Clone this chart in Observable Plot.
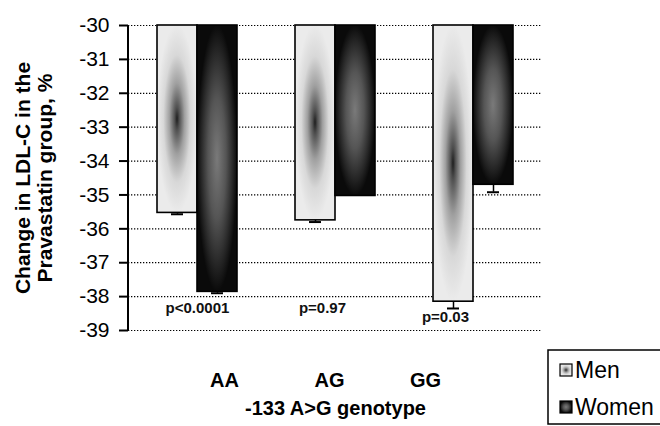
<!DOCTYPE html>
<html><head><meta charset="utf-8">
<script src="https://cdn.jsdelivr.net/npm/d3@7"></script>
<script src="https://cdn.jsdelivr.net/npm/@observablehq/plot@0.6"></script>
<style>body{margin:0;background:#fff} svg{display:block}</style>
</head><body><div id="chart"></div>
<script>
// ---- data ----
const genotypes = ["AA", "AG", "GG"];
const menChange = [-35.53, -35.75, -38.15];
const menErr = [0.04, 0.05, 0.2];
const womenChange = [-37.86, -35.03, -34.7];
const womenErr = [0.04, 0.0, 0.22];
const pLabels = ["p<0.0001", "p=0.97", "p=0.03"];
const pLabelY = [-38.35, -38.33, -38.62];
const series = ["Men", "Women"];
const yTicks = [-30, -31, -32, -33, -34, -35, -36, -37, -38, -39];
const xTitle = "-133 A>G genotype";
const yTitle = ["Change in LDL-C in the", "Pravastatin group, %"];

// ---- styling (not data) ----
const pShift = [0, -13, -28];
const xLabelShift = [27, -6, -48];
const FONT = "'Liberation Sans', Arial, sans-serif";

const rows = genotypes.map((g, i) => ({
  genotype: g, men: menChange[i], menErr: menErr[i],
  women: womenChange[i], womenErr: womenErr[i], p: pLabels[i], pY: pLabelY[i]
}));

const defsMark = () => {
  const g = d3.create("svg:defs");
  const m = g.append("radialGradient").attr("id", "menGrad")
    .attr("cx", 0.5).attr("cy", 0.5).attr("r", 0.5);
  [[0, "#1e1e1e"], [0.12, "#505050"], [0.38, "#a0a0a0"], [0.68, "#d8d8d8"], [1, "#ebebeb"]]
    .forEach(([o, c]) => m.append("stop").attr("offset", o).attr("stop-color", c));
  const w = g.append("radialGradient").attr("id", "womenGrad")
    .attr("cx", 0.5).attr("cy", 0.5).attr("r", 0.5);
  [[0, "#7a7a7a"], [0.45, "#555"], [0.8, "#262626"], [1, "#0a0a0a"]]
    .forEach(([o, c]) => w.append("stop").attr("offset", o).attr("stop-color", c));
  return g.node();
};

const axisLine = (index, scales, values, dims) => {
  const g = d3.create("svg:g");
  g.append("line")
    .attr("x1", dims.marginLeft).attr("x2", dims.marginLeft)
    .attr("y1", scales.y(-30)).attr("y2", scales.y(-39))
    .attr("stroke", "#000").attr("stroke-width", 2);
  return g.node();
};

const legendMark = (index, scales, values, dims) => {
  const g = d3.create("svg:g").attr("font-family", FONT).attr("font-size", 23)
    .attr("text-anchor", "start");
  const x0 = 548, y0 = 350;
  g.append("rect").attr("x", x0).attr("y", y0).attr("width", 130).attr("height", 74)
    .attr("fill", "#fff").attr("stroke", "#000").attr("stroke-width", 1.5);
  const fills = ["url(#menGrad)", "url(#womenGrad)"];
  series.forEach((s, i) => {
    const cy = y0 + 20 + i * 37;
    g.append("rect").attr("x", x0 + 12).attr("y", cy - 6).attr("width", 12).attr("height", 12)
      .attr("fill", fills[i]).attr("stroke", "#000").attr("stroke-width", 1.2);
    g.append("text").attr("x", x0 + 27).attr("y", cy).attr("dy", "0.36em")
      .attr("fill", "#000").text(s);
  });
  return g.node();
};

const chart = Plot.plot({
  width: 660, height: 426,
  marginLeft: 128, marginRight: 118, marginTop: 25, marginBottom: 96,
  style: {fontFamily: FONT, background: "#fff", color: "#000"},
  x: {type: "band", domain: genotypes, paddingInner: 0.42, paddingOuter: 0.21, axis: null},
  y: {domain: [-39, -30], axis: null},
  marks: [
    defsMark,
    Plot.gridY(yTicks, {stroke: "#000", strokeOpacity: 1, strokeWidth: 1.2, strokeDasharray: "1.3,1.7"}),
    Plot.barY(rows, {x: "genotype", y1: -30, y2: "men", insetRight: 40,
      fill: "url(#menGrad)", stroke: "#000", strokeWidth: 1.6}),
    Plot.barY(rows, {x: "genotype", y1: -30, y2: "women", insetLeft: 40,
      fill: "url(#womenGrad)", stroke: "#000", strokeWidth: 1.6}),
    Plot.ruleX(rows, {x: "genotype", y1: "men", y2: d => d.men - d.menErr, dx: -20, stroke: "#000", strokeWidth: 1.5}),
    Plot.tickY(rows, {x: "genotype", y: d => d.men - d.menErr, dx: -20, insetLeft: 34, insetRight: 34, stroke: "#000", strokeWidth: 2}),
    Plot.ruleX(rows.filter(d => d.womenErr > 0), {x: "genotype", y1: "women", y2: d => d.women - d.womenErr, dx: 20, stroke: "#000", strokeWidth: 1.5}),
    Plot.tickY(rows.filter(d => d.womenErr > 0), {x: "genotype", y: d => d.women - d.womenErr, dx: 20, insetLeft: 34, insetRight: 34, stroke: "#000", strokeWidth: 2}),
    ...rows.map((r, i) => Plot.text([r], {x: "genotype", y: "pY", text: "p", dx: pShift[i],
      fontSize: 15, fontWeight: "bold", fill: "#111"})),
    ...genotypes.map((g, i) => Plot.text([g], {x: d => d, text: d => d, frameAnchor: "bottom",
      dy: 56, dx: xLabelShift[i], fontSize: 20, fontWeight: "bold"})),
    Plot.text([xTitle], {text: d => d, frameAnchor: "bottom", dy: 84, fontSize: 20,
      fontWeight: "bold"}),
    Plot.text([yTitle[0]], {text: d => d, frameAnchor: "left", textAnchor: "middle", rotate: -90, dx: -105,
      fontSize: 21, fontWeight: "bold"}),
    Plot.text([yTitle[1]], {text: d => d, frameAnchor: "left", textAnchor: "middle", rotate: -90, dx: -83,
      fontSize: 21, fontWeight: "bold"}),
    Plot.axisY({ticks: yTicks, tickFormat: d => String(d), tickSize: 9, tickPadding: 10,
      fontSize: 21, label: null, stroke: "#000", strokeWidth: 2}),
    axisLine,
    legendMark
  ]
});
document.getElementById("chart").append(chart);
</script>
</body></html>
